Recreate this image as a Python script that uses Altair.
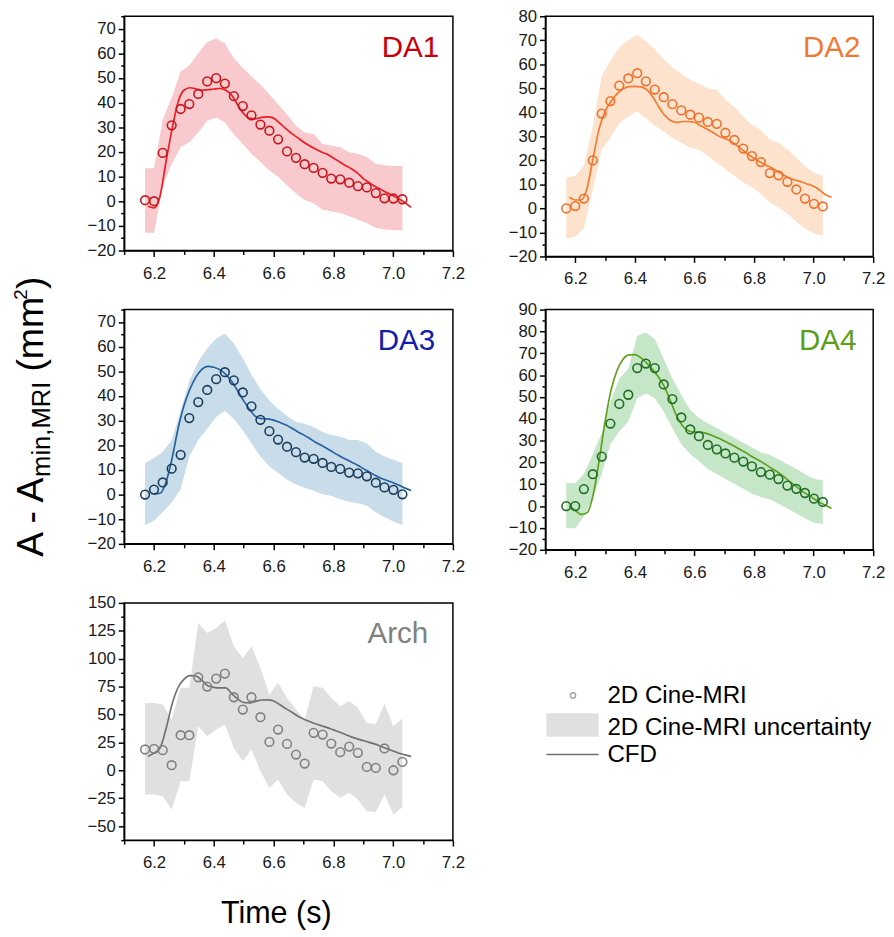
import altair as alt
import pandas as pd

FONT = "Liberation Sans"

# ---------------- data ----------------
T_PTS = [6.170, 6.200, 6.229, 6.259, 6.289, 6.318, 6.348, 6.378, 6.408, 6.437,
         6.467, 6.497, 6.526, 6.556, 6.586, 6.615, 6.645, 6.675, 6.704, 6.734,
         6.764, 6.793, 6.823, 6.853, 6.882, 6.912, 6.942, 6.971, 7.001, 7.031]
T_CFD = [6.18, 6.20, 6.22, 6.24, 6.26, 6.28, 6.30, 6.32, 6.34, 6.36, 6.38, 6.40,
         6.42, 6.44, 6.46, 6.48, 6.50, 6.52, 6.54, 6.56, 6.58, 6.60, 6.62, 6.64,
         6.66, 6.68, 6.70, 6.72, 6.74, 6.76, 6.78, 6.80, 6.82, 6.84, 6.86, 6.88,
         6.90, 6.92, 6.94, 6.96, 6.98, 7.00, 7.02, 7.04, 7.06]

DA1_PTS = [0.4, 0, 19.6, 30.8, 37.4, 39.4, 43.5, 48.6, 49.9, 47.7, 42.6, 38.6, 34.8, 31.1, 28.6,
           25.1, 20.2, 17.6, 15.0, 13.5, 11.5, 9.2, 8.9, 7.5, 6.1, 5.6, 3.3, 1.2, 1.1, 0.8]
DA1_HI = [13.4, 13.4, 33, 42, 52.6, 55, 60, 64.6, 66, 64, 58, 54, 50.6, 47.3, 43.3,
          39.3, 35.2, 30.6, 27.9, 27.2, 23.2, 22.6, 21.9, 19.9, 19.2, 17.9, 15.2, 14.6, 14.3, 14.3]
DA1_LO = [-12.8, -12.8, 5.9, 15.2, 21.9, 23.9, 27.9, 32.6, 33.9, 31.9, 27.2, 23.2, 19.2, 15.9, 12.5,
          9.9, 6.5, 3.2, 0.5, -0.8, -3.5, -4.1, -4.8, -6.1, -7.5, -8.8, -10.8, -11.5, -11.7, -11.9]
DA1_CFD = [-2.0, -2.7, 2.0, 16, 29, 40, 45, 46, 45.6, 45.0, 45.2, 45.5, 45.7, 45, 43, 39, 35.5,
           33.6, 33.4, 34, 34.2, 33.7, 31.7, 29.5, 27.5, 25.8, 24, 22.5, 21.2, 20, 19, 17.5, 16,
           14.5, 13.2, 11.5, 9.2, 7.5, 6, 4.7, 3.4, 2.2, 0.9, -0.6, -2.5]

DA2_PTS = [0, 1.0, 4.1, 20, 39.5, 44.7, 51.1, 54.1, 56.3, 52.9, 49.5, 46.3, 43.4, 40.8, 39.0,
           37.8, 36.0, 35.2, 31.5, 28.5, 24.9, 21.8, 19.3, 14.7, 13.8, 11.1, 7.9, 4.1, 1.9, 0.8]
DA2_HI = [12.9, 13.6, 17.7, 34, 55.3, 61.5, 67, 70, 72.2, 69.7, 66.3, 62.2, 58.8, 56, 53.6,
          51.9, 49.9, 49.5, 45.1, 42.3, 38.2, 34.8, 32.7, 28.6, 27.3, 24.5, 21.1, 17.7, 14.9, 13.6]
DA2_LO = [-12.5, -11.8, -8.4, 8, 24.5, 29.3, 35.5, 38.2, 40.3, 37.5, 34.4, 32, 29.3, 27.3, 25.2,
          24.5, 21.8, 19, 16.3, 13.6, 10.8, 8.8, 6, 2.6, 0.5, -2.2, -5.6, -8.4, -10.4, -11.4]
DA2_CFD = [4.7, 3.5, 3.5, 8.5, 21, 33, 40.3, 44.5, 47.7, 49.7, 50.7, 50.8, 50.6, 49.5, 46.5,
           42.3, 38.8, 36.6, 35.8, 36.2, 36.2, 35.9, 34.5, 33.2, 31.8, 30.2, 29.2, 28.1, 26.4,
           24.5, 22.5, 20.9, 19.3, 18, 16.8, 15.3, 13.8, 12.6, 11.7, 11, 10.1, 9.2, 7.6, 5.7, 4.7]

DA3_PTS = [0, 2.0, 4.9, 10.5, 16.1, 31.0, 37.5, 42.4, 46.8, 49.6, 46.3, 41.4, 35.8, 30.3, 25.7,
           22.3, 19.4, 17.2, 15.0, 14.5, 12.8, 11.2, 10.4, 8.9, 8.6, 7.4, 4.8, 2.9, 1.9, 0.1]
DA3_HI = [12.8, 14.8, 17.4, 22, 34, 46, 54, 59.3, 63.3, 65.3, 61.3, 55.3, 48.7, 42.7, 38,
          34.7, 32, 29.4, 28.7, 27.4, 25.4, 24.1, 23.4, 22.1, 22.1, 20.7, 17.4, 15.4, 14.1, 12.8]
DA3_LO = [-12.5, -10.5, -7.2, -3.2, 2.1, 15.4, 22.1, 26.7, 31.4, 34, 30.7, 26.1, 20.7, 15.4, 11.4,
          8.8, 6.1, 4.1, 2.8, 1.5, 0.1, -0.5, -1.9, -2.9, -3.5, -4.5, -7.2, -9.2, -10.9, -12.5]
DA3_CFD = [None, 0.2, 0.5, 5, 14.5, 26.5, 36, 42.7, 47.6, 50.8, 52, 51.6, 50.6, 48.7, 45.8, 42,
           38, 34.5, 31.6, 30.8, 30.7, 30.2, 29.3, 28.3, 27, 25.5, 24.2, 22.8, 21.2, 20, 18.6,
           17.1, 15.7, 14.4, 13.2, 12, 10.5, 9.2, 7.8, 6.6, 5.7, 4.8, 3.8, 2.6, 1.6]

DA4_PTS = [0, 0, 7.8, 14.6, 22.7, 37.8, 46.8, 51.0, 63.2, 65.3, 63.2, 55.7, 49.0, 40.6, 35.1,
           32.0, 28.0, 26.0, 24.1, 22.2, 20.4, 18.2, 15.6, 14.4, 12.4, 9.4, 7.9, 6.0, 3.4, 1.9]
DA4_HI = [10.5, 10.5, 14.7, 23.7, 33.5, 47.8, 58.4, 62.9, 78, 79.5, 76.5, 67.4, 58.4, 50.9, 44,
          40.3, 38, 35.8, 33.5, 31.3, 29, 26.8, 24.5, 23.5, 21.5, 19.2, 17, 14.7, 12.4, 12]
DA4_LO = [-10.2, -10.2, -4.9, 4.2, 14.7, 28.3, 34.3, 38.8, 49.4, 51.6, 49.4, 43.3, 35.8, 28.3, 23.7,
          20.7, 17, 14.7, 12.4, 10.2, 7.9, 5.7, 4.2, 3, 1.1, -1.1, -3.4, -5.6, -7.6, -8.2]
DA4_CFD = [0.2, -2, -3.8, -3, 5, 20.7, 38.5, 53, 62, 67.2, 69.3, 69.4, 68, 65.5, 62.5, 59,
           54.5, 48, 41.5, 36.8, 34.5, 33.9, 33.9, 33.3, 32.3, 31.2, 29.8, 28.4, 27, 25.4, 23.8,
           22.1, 20.7, 19, 17.2, 15.5, 13.5, 11.2, 9.2, 7, 5.2, 3.5, 1.7, 0.4, -1.1]

ARCH_PTS = [18.7, 19.3, 18.1, 4.6, 31.5, 31.5, 83.4, 75.1, 82.2, 86.7, 65.5, 54.5, 65.5, 47.6, 25.5,
            36.6, 23.7, 14.2, 6.1, 33.6, 32.1, 24, 16.3, 21.3, 15.7, 3.1, 2.2, 19.6, 0.1, 7.6]
ARCH_HI = [60.4, 60.4, 59, 45.5, 73.9, 73.9, 132, 123, 127.6, 134.5, 111.2, 100.7, 111.2, 91.8, 67.9,
           78.4, 64.9, 54.5, 45.5, 75.4, 73.9, 64.9, 57.5, 61.9, 56, 42.5, 41.6, 59.6, 39.6, 46.4]
ARCH_LO = [-21.6, -21.6, -23.1, -35, -9.7, -9.7, 39.6, 30.6, 36.6, 41, 20.1, 8.2, 18.7, -0.7, -15.7,
           -8.2, -21.6, -29.1, -33.6, -8.2, -9.7, -18.7, -24.6, -20.1, -26.1, -36.6, -37.2, -21.6,
           -39.6, -33]
ARCH_CFD = [12.7, 15.4, 20, 37, 59, 74, 81.5, 84.8, 84.5, 80.5, 75.8, 74.4, 73.9, 73.9, 68.8,
            63.8, 60.8, 60.4, 61.8, 63, 63.2, 62.2, 59, 55.5, 52.3, 48.7, 46, 43.7, 41.7, 40,
            38.3, 36.3, 34.4, 32.2, 30, 28.2, 26.7, 25.1, 23.5, 21.4, 19.3, 17.3, 15.4, 13.9, 12.5]

X_LABELLED = [6.2, 6.4, 6.6, 6.8, 7.0, 7.2]
X_UNLABELLED = [6.1, 6.3, 6.5, 6.7, 6.9, 7.1]
Y_TICKS_70 = [-20, -10, 0, 10, 20, 30, 40, 50, 60, 70]
Y_TICKS_80 = [-20, -10, 0, 10, 20, 30, 40, 50, 60, 70, 80]
Y_TICKS_90 = [-20, -10, 0, 10, 20, 30, 40, 50, 60, 70, 80, 90]
Y_TICKS_ARCH = [-50, -25, 0, 25, 50, 75, 100, 125, 150]

PANEL_NAMES = ["DA1", "DA2", "DA3", "DA4", "Arch"]
LEGEND_LABELS = ["2D Cine-MRI", "2D Cine-MRI uncertainty", "CFD"]
X_TITLE = "Time (s)"
YT = ["A - A", "min,MRI", "(mm", "2", ")"]


def minor_of(ticks, step):
    return [t + step / 2 for t in ticks]


def panel(name, pts, lo, hi, cfd, ydom, ymaj, ymin, band_c, line_c, pt_c, title_c,
          w, h, title_right, xtitle=None):
    dfp = pd.DataFrame({"t": T_PTS, "v": pts, "lo": lo, "hi": hi})
    dfc = pd.DataFrame({"t": T_CFD, "v": cfd}).dropna()
    xs = alt.Scale(domain=[6.1, 7.2], nice=False, zero=False)
    ys = alt.Scale(domain=ydom, nice=False, zero=False)
    xkw = dict(orient="bottom", values=X_LABELLED, format=".1f", tickSize=6,
               labelPadding=9, labelFlush=False, title=None)
    if xtitle:
        xkw.update(title=xtitle, titleFontSize=31, titleFontWeight="normal",
                   titlePadding=29, titleX=154, titleColor="#000", titleFont=FONT)
    x_major = alt.Axis(**xkw)
    y_major = alt.Axis(orient="left", values=ymaj, format="d", tickSize=6,
                       labelPadding=3, labelFlush=False, title=None)
    x_minor = alt.Axis(orient="bottom", values=X_UNLABELLED, labels=False, domain=False,
                       tickSize=4, title=None)
    y_minor = alt.Axis(orient="left", values=ymin, labels=False, domain=False,
                       tickSize=3.5, title=None)
    band = alt.Chart(dfp).mark_area(color=band_c, opacity=1).encode(
        x=alt.X("t:Q", scale=xs, axis=x_major),
        y=alt.Y("lo:Q", scale=ys, axis=y_major),
        y2="hi:Q",
    )
    line = alt.Chart(dfc).mark_line(color=line_c, strokeWidth=1.7,
                                    interpolate="monotone").encode(
        x=alt.X("t:Q", scale=xs, axis=None),
        y=alt.Y("v:Q", scale=ys, axis=None),
    )
    points = alt.Chart(dfp).mark_point(shape="circle", filled=False, color=pt_c, size=78,
                                       strokeWidth=1.6, opacity=1).encode(
        x=alt.X("t:Q", scale=xs, axis=x_minor),
        y=alt.Y("v:Q", scale=ys, axis=y_minor),
    )
    label = alt.Chart(pd.DataFrame({"name": [name]})).mark_text(
        align="right", baseline="alphabetic", fontSize=30, font=FONT, color=title_c
    ).encode(x=alt.value(w - title_right), y=alt.value(41), text="name:N")
    return alt.layer(band, line, points, label).resolve_axis(
        x="independent", y="independent").properties(width=w, height=h)


WL, WR = 334, 333
HL, HR = 238, 244

p1 = panel(PANEL_NAMES[0], DA1_PTS, DA1_LO, DA1_HI, DA1_CFD, [-20, 75], Y_TICKS_70,
           minor_of(Y_TICKS_70, 10)[:-1] + [75], "#f8c9cd", "#ee1c24", "#c4161c", "#c8000a",
           WL, HL, 14)
p2 = panel(PANEL_NAMES[1], DA2_PTS, DA2_LO, DA2_HI, DA2_CFD, [-20, 80], Y_TICKS_80,
           minor_of(Y_TICKS_80, 10)[:-1], "#fde3cd", "#f37a2e", "#f0702a", "#f07a32",
           WR, HR, 13)
p3 = panel(PANEL_NAMES[2], DA3_PTS, DA3_LO, DA3_HI, DA3_CFD, [-20, 75], Y_TICKS_70,
           minor_of(Y_TICKS_70, 10)[:-1] + [75], "#c9dce9", "#2362a2", "#1c3c5c", "#1020a8",
           WL, HL, 18)
p4 = panel(PANEL_NAMES[3], DA4_PTS, DA4_LO, DA4_HI, DA4_CFD, [-20, 90], Y_TICKS_90,
           minor_of(Y_TICKS_90, 10)[:-1], "#c6e6c8", "#5ca01e", "#1e6e22", "#5a9e1a",
           WR, HR, 17)
p5 = panel(PANEL_NAMES[4], ARCH_PTS, ARCH_LO, ARCH_HI, ARCH_CFD, [-62.5, 150], Y_TICKS_ARCH,
           [-62.5] + minor_of(Y_TICKS_ARCH, 25)[:-1], "#e0e0e0", "#707070", "#808080", "#808080",
           WL, 241, 25, xtitle=X_TITLE)

# legend panel
one = pd.DataFrame({"k": [0]})


def leg_text(label, y):
    return alt.Chart(pd.DataFrame({"label": [label]})).mark_text(
        align="left", baseline="alphabetic", fontSize=24.5, font=FONT, color="#000"
    ).encode(x=alt.value(63), y=alt.value(y), text="label:N")


leg_pt = alt.Chart(one).mark_point(shape="circle", filled=False, color="#808080",
                                   size=28, strokeWidth=1.5).encode(
    x=alt.value(28), y=alt.value(94))
leg_rect = alt.Chart(one).mark_rect(color="#e0e0e0").encode(
    x=alt.value(1), x2=alt.value(54), y=alt.value(112), y2=alt.value(136))
leg_line = alt.Chart(one).mark_rule(color="#707070", strokeWidth=1.7).encode(
    x=alt.value(1), x2=alt.value(54), y=alt.value(154))
legend = alt.layer(
    leg_pt, leg_rect, leg_line,
    leg_text(LEGEND_LABELS[0], 102),
    leg_text(LEGEND_LABELS[1], 134),
    leg_text(LEGEND_LABELS[2], 162),
).properties(width=WR, height=241, view=alt.ViewBackground(strokeOpacity=0))

grid = alt.concat(p1, p2, p3, p4, p5, legend, columns=2,
                  spacing={"row": 12, "column": 42})


# y title (rotated, with subscript and superscript)
def seg(text, size, x, y):
    return alt.Chart(pd.DataFrame({"s": [text]})).mark_text(
        angle=270, align="left", baseline="alphabetic", fontSize=size, font=FONT,
        color="#000").encode(x=alt.value(x), y=alt.value(y), text="s:N")


ytitle = alt.layer(
    seg(YT[0], 38, 36, 549),
    seg(YT[1], 26, 43, 468),
    seg(YT[2], 38, 36, 361),
    seg(YT[3], 19, 19, 288),
    seg(YT[4], 38, 36, 277),
).properties(width=45, height=830, view=alt.ViewBackground(strokeOpacity=0))

chart = alt.hconcat(ytitle, grid, spacing=31).properties(
    padding={"left": 0, "top": -9, "right": 0, "bottom": 0}
).configure_view(stroke="#000", strokeWidth=1.5).configure_axis(
    labelFont=FONT, labelFontSize=17, labelColor="#1a1a1a", domainColor="#000",
    domainWidth=1.5, tickColor="#000", tickWidth=1.5, grid=False
)

chart.save("out.html", embed_options={"renderer": "svg", "actions": False})
